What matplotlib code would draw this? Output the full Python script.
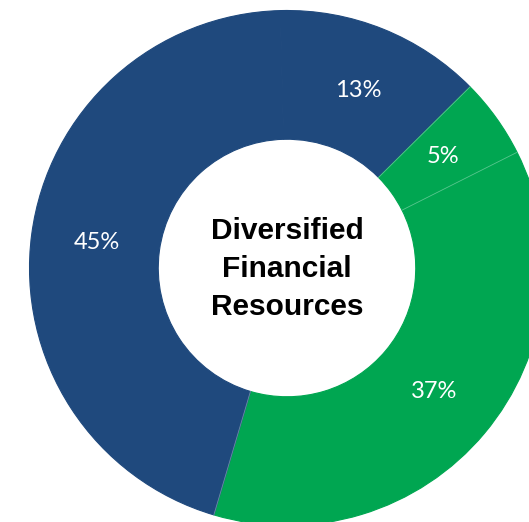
import matplotlib
matplotlib.use("Agg")
import matplotlib.pyplot as plt
import numpy as np

categories = ["Segment A", "Segment B", "Segment C", "Segment D"]
values = [13, 5, 37, 45]
labels = ["13%", "5%", "37%", "45%"]
colors = ["#1F497D", "#00A651", "#00A651", "#1F497D"]
center_text = "Diversified\nFinancial\nResources"

W, H = 529, 522
fig = plt.figure(figsize=(W / 100, H / 100), dpi=100)
ax = fig.add_axes([0, 0, 1, 1])

R = 257.5
cx, cy = 287, 268  # pixel position of centre (from top)

wedges, _ = ax.pie(values, colors=colors, startangle=91.5, counterclock=False,
                   radius=1.0, wedgeprops=dict(width=0.5, linewidth=0.8))
for w, c in zip(wedges, colors):
    w.set_edgecolor(c)
for w, lab in zip(wedges, labels):
    ang = np.deg2rad((w.theta1 + w.theta2) / 2)
    ax.text(0.745 * np.cos(ang), 0.745 * np.sin(ang), lab, ha="center", va="center",
            color="white", fontsize=17, family=["Lato", "DejaVu Sans"], fontweight="normal")
# faint separators
for i in range(len(wedges)):
    nxt = (i + 1) % len(wedges)
    if colors[i] != colors[nxt] or i == 1:
        t = np.deg2rad(wedges[i].theta1)
        ax.plot([0.5 * np.cos(t), np.cos(t)], [0.5 * np.sin(t), np.sin(t)],
                color="white", alpha=0.35, lw=0.6)

ax.text(0, -0.005, center_text, ha="center", va="center", fontsize=21.5,
        fontweight="bold", family=["Liberation Sans", "DejaVu Sans"], linespacing=1.45,
        color="black")

ax.set_xlim(-cx / R, (W - cx) / R)
ax.set_ylim(-(H - cy) / R, cy / R)
ax.set_aspect("equal")
ax.axis("off")
fig.savefig("out.png", dpi=100)
